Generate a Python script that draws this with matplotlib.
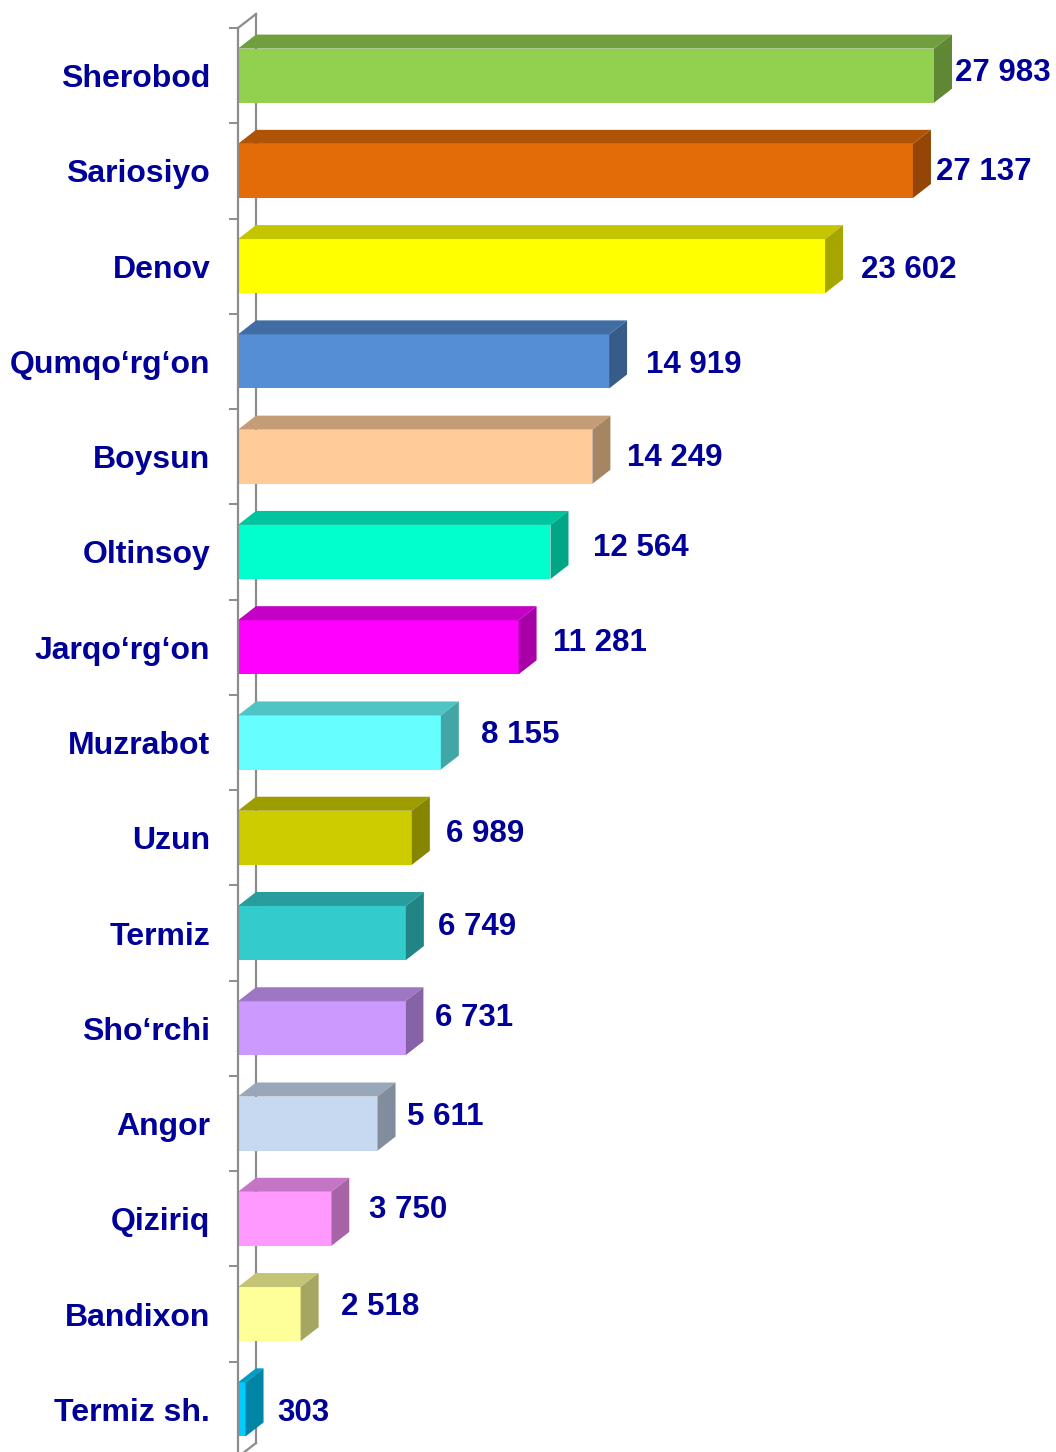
import matplotlib
matplotlib.use("Agg")
import matplotlib.pyplot as plt
from matplotlib.patches import Polygon
from matplotlib.colors import to_rgb

districts = ["Sherobod", "Sariosiyo", "Denov", "Qumqo‘rg‘on", "Boysun", "Oltinsoy",
             "Jarqo‘rg‘on", "Muzrabot", "Uzun", "Termiz", "Sho‘rchi", "Angor",
             "Qiziriq", "Bandixon", "Termiz sh."]
values = [27983, 27137, 23602, 14919, 14249, 12564, 11281, 8155,
          6989, 6749, 6731, 5611, 3750, 2518, 303]

bar_colors = ["#92D050", "#E36C09", "#FFFF00", "#558ED5", "#FFCC99", "#00FFCC",
              "#FF00FF", "#66FFFF", "#CCCC00", "#33CCCC", "#CC99FF", "#C6D9F1",
              "#FF99FF", "#FFFF99", "#00CCFF"]

# where each value label sits (pixels): gap after bar, shift upwards
label_gap = [3, 5, 18, 19, 17, 25, 16, 22, 16, 14, 12, 11, 20, 22, 14]
label_up = [6, 2, -1, -1, 2, 7, 7, 10, 7, 9, 13, 10, 12, 10, -1]

TEXT = "#000099"
WALL = "#8C8C8C"
FONT = "Liberation Sans"


def shade(c, f):
    r, g, b = to_rgb(c)
    return (r * f, g * f, b * f)


W, H = 1056, 1452
fig = plt.figure(figsize=(W / 100, H / 100), dpi=100)

x0_px, top_px, bot_px = 238, 28, 1457
px_per_unit = 696 / 27983
xmax = (W - x0_px) / px_per_unit
n = len(values)
ax = fig.add_axes([x0_px / W, (H - bot_px) / H, (W - x0_px) / W, (bot_px - top_px) / H])
ax.set_xlim(0, xmax)
ax.set_ylim(n - 0.5, -0.5)

# 3d depth in data units
dx = 18 / px_per_unit
dy = 14 * n / (bot_px - top_px)
h = 0.568

# wall behind the bars
ax.plot([dx, dx], [-0.5 - dy, n - 0.5 - dy], color=WALL, lw=1.6, zorder=0.5, clip_on=False)
ax.plot([0, dx], [-0.5, -0.5 - dy], color=WALL, lw=1.6, zorder=0.5, clip_on=False)
ax.plot([0, dx], [n - 0.5, n - 0.5 - dy], color=WALL, lw=1.6, zorder=0.5, clip_on=False)

for i, (v, c) in enumerate(zip(values, bar_colors)):
    top, bot = i - h / 2, i + h / 2
    front = Polygon([(0, top), (v, top), (v, bot), (0, bot)], closed=True,
                    facecolor=c, edgecolor="none", zorder=2)
    lid = Polygon([(0, top), (v, top), (v + dx, top - dy), (dx, top - dy)], closed=True,
                  facecolor=shade(c, 0.77), edgecolor="none", zorder=2)
    side = Polygon([(v, top), (v + dx, top - dy), (v + dx, bot - dy), (v, bot)], closed=True,
                   facecolor=shade(c, 0.65), edgecolor="none", zorder=2)
    for p in (front, lid, side):
        ax.add_patch(p)
    ax.annotate(f"{v:,}".replace(",", " "), xy=(v + dx, i),
                xytext=(label_gap[i] * 0.72, (label_up[i] - 3) * 0.72),
                textcoords="offset points", ha="left", va="center",
                fontsize=22.5, fontweight="bold", color=TEXT, family=FONT,
                annotation_clip=False)

for s in ["top", "right", "bottom"]:
    ax.spines[s].set_visible(False)
ax.spines["left"].set_color(WALL)
ax.spines["left"].set_linewidth(1.6)
ax.spines["left"].set_zorder(3)
ax.set_xticks([])

ax.set_yticks([k - 0.5 for k in range(n + 1)])
ax.set_yticklabels([])
ax.tick_params(axis="y", which="major", length=6.5, width=1.4, color=WALL)
ax.set_yticks(range(n), minor=True)
ax.set_yticklabels(districts, minor=True, fontsize=23, fontweight="bold",
                   color=TEXT, family=FONT)
ax.tick_params(axis="y", which="minor", length=0, pad=20)

fig.savefig("out.png", dpi=100)
